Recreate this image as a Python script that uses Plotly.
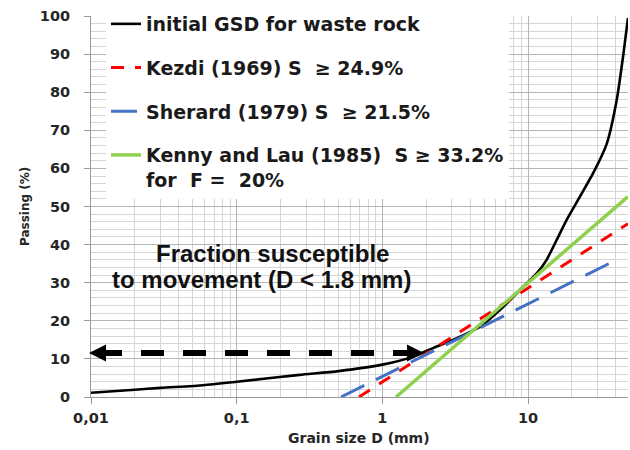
import plotly.graph_objects as go
import math

# ---------------- data ----------------
gsd_d = [0.01, 0.02, 0.03, 0.059, 0.1, 0.27, 0.5, 1.0, 1.63, 2.24, 3.05, 4.7, 6.4,
         9.3, 11.5, 13.4, 15.7, 18.4, 22.7, 28.2, 34.7, 40.6, 45.1, 48.5]
gsd_p = [1.1, 1.9, 2.4, 3.1, 4.0, 5.8, 6.8, 8.5, 10.6, 12.9, 15.0, 18.5, 22.8,
         29.0, 32.5, 36.0, 41.2, 46.5, 52.6, 59.0, 66.5, 78.0, 90.0, 99.5]

kezdi_d = [0.69, 48.5]
kezdi_p = [0.0, 45.5]

sherard_d = [0.52, 41.5]
sherard_p = [0.0, 36.2]

kenny_d = [1.24, 48.5]
kenny_p = [0.0, 52.6]

x_tickvals = [0.01, 0.1, 1, 10]
x_ticktext = ["0,01", "0,1", "1", "10"]
y_tickvals = list(range(0, 101, 10))

names = [
    "initial GSD for waste rock",
    "Kezdi (1969) S \u00a0≥ 24.9%",
    "Sherard (1979) S \u00a0≥ 21.5%",
    "Kenny and Lau (1985) \u00a0S ≥ 33.2%<br>for \u00a0F = \u00a020%",
]

X_MAX = 48.5

fig = go.Figure()
fig.add_trace(go.Scatter(x=gsd_d, y=gsd_p, mode="lines", name=names[0], legendgroup="a",
                         line=dict(color="#000000", width=2.6, shape="spline", smoothing=0.6)))
fig.add_trace(go.Scatter(x=kezdi_d, y=kezdi_p, mode="lines", name=names[1], legendgroup="b",
                         line=dict(color="#ff0000", width=3, dash="13px,11px")))
fig.add_trace(go.Scatter(x=sherard_d, y=sherard_p, mode="lines", name=names[2], legendgroup="c",
                         line=dict(color="#4472c4", width=3, dash="26px,13px")))
fig.add_trace(go.Scatter(x=kenny_d, y=kenny_p, mode="lines", name=names[3], legendgroup="d",
                         line=dict(color="#8fd14f", width=3.5)))

# target plot area in window pixels: x 91..628, y 16..397
L, R, T, B = 91, 628, 16, 397
def px(xp):
    return (xp - L) / (R - L)
def py(yp):
    return (B - yp) / (B - T)

shapes = []
shapes.append(dict(type="rect", xref="paper", yref="paper",
                   x0=px(92), x1=px(457), y0=py(325), y1=py(227),
                   fillcolor="white", line=dict(width=0), layer="between"))
ya = py(353)
shapes.append(dict(type="line", xref="paper", yref="paper",
                   x0=px(99), x1=px(410), y0=ya, y1=ya,
                   line=dict(color="black", width=6, dash="23px,19px"), layer="above"))
h = 8.5 / (B - T)
shapes.append(dict(type="path", xref="paper", yref="paper",
                   path=f"M {px(89)},{ya} L {px(106)},{ya+h} L {px(106)},{ya-h} Z",
                   fillcolor="black", line=dict(width=0), layer="above"))
shapes.append(dict(type="path", xref="paper", yref="paper",
                   path=f"M {px(424)},{ya} L {px(407)},{ya+h} L {px(407)},{ya-h} Z",
                   fillcolor="black", line=dict(width=0), layer="above"))

big = dict(family="Liberation Sans, Arial", size=24, color="#111111", weight="bold")
annots = [
    dict(text="Fraction susceptible", xref="paper", yref="paper",
         x=px(272), y=py(253), xanchor="center", yanchor="middle", showarrow=False, font=big),
    dict(text="to movement (D < 1.8 mm)", xref="paper", yref="paper",
         x=px(261.5), y=py(279), xanchor="center", yanchor="middle", showarrow=False, font=big),
    dict(text="Grain size D (mm)", xref="paper", yref="paper",
         x=px(359), y=py(438), xanchor="center", yanchor="middle", showarrow=False,
         font=dict(family="DejaVu Sans", size=14, color="#262626", weight="bold")),
    dict(text="Passing (%)", xref="paper", yref="paper", textangle=-90,
         x=px(25), y=py(207), xanchor="center", yanchor="middle", showarrow=False,
         font=dict(family="DejaVu Sans", size=12, color="#262626", weight="bold")),
]

tickfont = dict(family="DejaVu Sans", size=14.5, color="#262626", weight="bold")

fig.update_layout(
    width=630, height=450,
    margin=dict(l=L, r=630 - R, t=T, b=450 - B, autoexpand=False),
    paper_bgcolor="white", plot_bgcolor="white",
    shapes=shapes, annotations=annots,
    showlegend=True,
    legend=dict(x=px(106), y=py(5), xanchor="left", yanchor="top",
                bgcolor="white", borderwidth=0, tracegroupgap=16, valign="top",
                font=dict(family="DejaVu Sans", size=19, color="#1a1a1a", weight="bold")),
    xaxis=dict(type="log", range=[-2, math.log10(X_MAX)], automargin=False,
               tickvals=x_tickvals, ticktext=x_ticktext,
               ticks="outside", ticklen=6, tickcolor="#999999", ticklabelstandoff=2,
               showline=True, linecolor="#999999", linewidth=1,
               showgrid=True, gridcolor="#b5b5b5", gridwidth=1,
               minor=dict(dtick="D1", showgrid=True, gridcolor="#d6d6d6", gridwidth=1),
               tickfont=tickfont, zeroline=False),
    yaxis=dict(range=[0, 100], tickvals=y_tickvals, automargin=False,
               ticks="outside", ticklen=6, tickcolor="#999999", ticklabelstandoff=11,
               showline=True, linecolor="#999999", linewidth=1,
               showgrid=True, gridcolor="#b5b5b5", gridwidth=1,
               minor=dict(dtick=2, showgrid=True, gridcolor="#d6d6d6", gridwidth=1),
               tickfont=tickfont, zeroline=False),
)

fig.write_html("out.html",
               config={"displayModeBar": False},
               post_script="document.body.style.margin='0';document.body.style.overflow='hidden';")
